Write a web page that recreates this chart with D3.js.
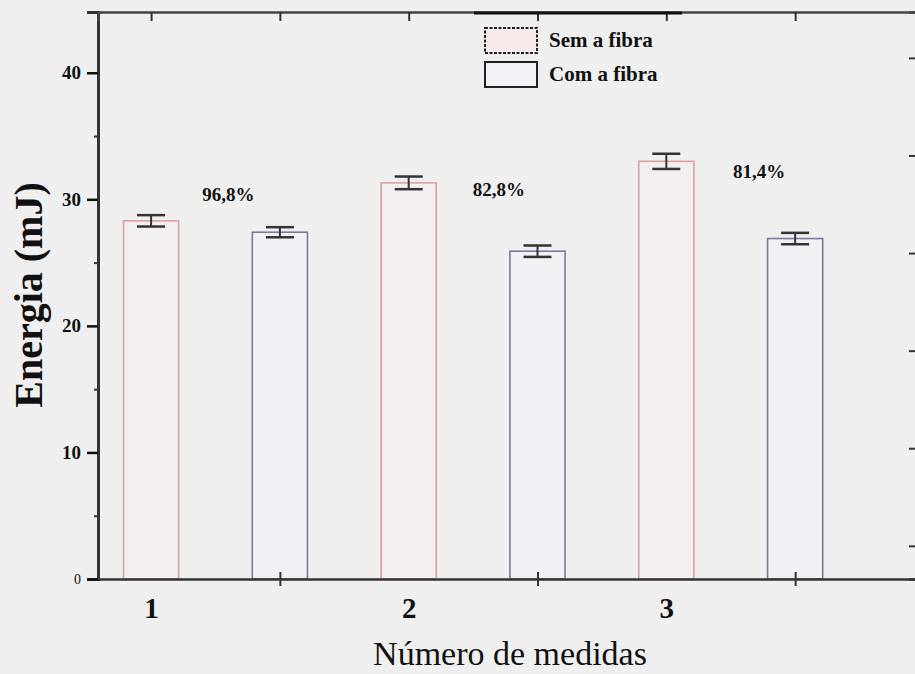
<!DOCTYPE html>
<html><head><meta charset="utf-8">
<script src="https://cdn.jsdelivr.net/npm/d3@7/dist/d3.min.js"></script>
<style>
html,body{margin:0;padding:0;background:#efefef;}
svg{display:block;}
</style></head>
<body>
<script>
// ---- data ----
const groups = [1, 2, 3];
const semFibra = [28.3, 31.3, 33.0];
const semFibraErr = [0.45, 0.5, 0.6];
const comFibra = [27.4, 25.9, 26.9];
const comFibraErr = [0.4, 0.45, 0.45];
const ratioLabels = ["96,8%", "82,8%", "81,4%"];
const yTicks = [0, 10, 20, 30, 40];
const yMinorTicks = [5, 15, 25, 35];
const seriesNames = ["Sem a fibra", "Com a fibra"];

const SERIF = "'Liberation Serif', 'Times New Roman', 'DejaVu Serif', serif";
const W = 915, H = 674;
const svg = d3.select("body").append("svg").attr("width", W).attr("height", H)
  .style("font-family", SERIF);
svg.append("rect").attr("width", W).attr("height", H).attr("fill", "#efefef");

const pLeft = 98, pRight = 917, pTop = 12, pBottom = 579;
const x = d3.scaleLinear().domain([0.794, 3.973]).range([pLeft, pRight]);
const y = d3.scaleLinear().domain([0, 44.8]).range([pBottom, pTop]);
const yR = d3.scaleLinear().domain([-0.34, 5.47]).range([pBottom, pTop]);
const barW = x(1.214) - x(1);

const semColor = "#d9a0a0", comColor = "#7a7aa0";

function txt(sel) { return sel.style("font-family", SERIF).attr("fill", "#111"); }

// bars
function drawBars(vals, errs, offset, color, fill) {
  const g = svg.append("g");
  g.selectAll("rect").data(vals).join("rect")
    .attr("x", (d, i) => x(groups[i] + offset) - barW / 2)
    .attr("y", d => y(d))
    .attr("width", barW)
    .attr("height", d => y(0) - y(d))
    .attr("fill", fill)
    .attr("stroke", color).attr("stroke-width", 1.6);
  const capW = 14;
  const eg = g.selectAll("g.err").data(vals).join("g").attr("class", "err");
  eg.append("line")
    .attr("x1", (d, i) => x(groups[i] + offset)).attr("x2", (d, i) => x(groups[i] + offset))
    .attr("y1", (d, i) => y(d + errs[i])).attr("y2", (d, i) => y(d - errs[i]))
    .attr("stroke", "#333").attr("stroke-width", 2);
  [1, -1].forEach(s => {
    eg.append("line")
      .attr("x1", (d, i) => x(groups[i] + offset) - capW).attr("x2", (d, i) => x(groups[i] + offset) + capW)
      .attr("y1", (d, i) => y(d + s * errs[i])).attr("y2", (d, i) => y(d + s * errs[i]))
      .attr("stroke", "#333").attr("stroke-width", 2.5);
  });
}
drawBars(semFibra, semFibraErr, 0, semColor, "#f3efef");
drawBars(comFibra, comFibraErr, 0.5, comColor, "#f1f1f5");

// axes
const axisColor = "#333";
// left axis
const yAxis = d3.axisLeft(y).tickValues(yTicks).tickSize(11).tickPadding(6).tickFormat(d3.format("d"));
const gy = svg.append("g").attr("transform", `translate(${pLeft},0)`).call(yAxis);
gy.select(".domain").attr("stroke", axisColor).attr("stroke-width", 3);
gy.selectAll(".tick line").attr("stroke", "#111").attr("stroke-width", 2.5);
txt(gy.selectAll(".tick text")).attr("font-size", 19).attr("font-weight", "bold");
gy.selectAll(".tick").filter(d => d === 0).select("text").attr("font-size", 14).attr("font-weight", "normal");
const gym = svg.append("g").attr("transform", `translate(${pLeft},0)`)
  .call(d3.axisLeft(y).tickValues(yMinorTicks).tickSize(4).tickFormat(""));
gym.select(".domain").remove();
gym.selectAll(".tick line").attr("stroke", axisColor).attr("stroke-width", 2);

// right axis (inward ticks)
const gr = svg.append("g").attr("transform", `translate(${pRight},0)`)
  .call(d3.axisLeft(yR).tickValues([0, 1, 2, 3, 4, 5]).tickSize(8).tickFormat(""));
gr.select(".domain").attr("stroke", axisColor).attr("stroke-width", 2.5);
gr.selectAll(".tick line").attr("stroke", axisColor).attr("stroke-width", 2);

// top axis (inward ticks)
const gt = svg.append("g").attr("transform", `translate(0,${pTop})`)
  .call(d3.axisBottom(x).tickValues([1, 1.5, 2, 2.5, 3, 3.5]).tickSize(9).tickFormat(""));
gt.select(".domain").attr("stroke", "#444").attr("stroke-width", 2.5);
gt.selectAll(".tick line").attr("stroke", "#333").attr("stroke-width", 2);

// bottom axis: cross ticks at half positions, labels at groups
const gb = svg.append("g").attr("transform", `translate(0,${pBottom})`)
  .call(d3.axisBottom(x).tickValues([1.5, 2.5, 3.5]).tickSizeInner(7).tickSizeOuter(0).tickFormat(""));
gb.select(".domain").attr("stroke", axisColor).attr("stroke-width", 2.5);
gb.selectAll(".tick line").attr("y1", -7).attr("stroke", "#333").attr("stroke-width", 2);
const gbl = svg.append("g").attr("transform", `translate(0,${pBottom})`)
  .call(d3.axisBottom(x).tickValues(groups).tickSize(0).tickPadding(18).tickFormat(d3.format("d")));
gbl.select(".domain").remove();
txt(gbl.selectAll(".tick text")).attr("font-size", 29).attr("font-weight", "bold");

// ratio labels
txt(svg.append("g").selectAll("text").data(ratioLabels).join("text"))
  .attr("x", (d, i) => x(groups[i] + [0.3, 0.35, 0.36][i]))
  .attr("y", (d, i) => y([29.9, 30.3, 31.7][i]))
  .attr("text-anchor", "middle")
  .attr("font-size", 19).attr("font-weight", "bold")
  .text(d => d);

// legend
const lg = svg.append("g");
lg.append("line").attr("x1", 474).attr("x2", 682).attr("y1", pTop + 1).attr("y2", pTop + 1)
  .attr("stroke", "#111").attr("stroke-width", 3);
const legendFills = ["#f6eaea", "#f2f2f6"];
seriesNames.forEach((name, i) => {
  const yy = 28 + i * 34;
  lg.append("rect").attr("x", 485).attr("y", yy).attr("width", 52).attr("height", 25)
    .attr("fill", legendFills[i]).attr("stroke", "#222").attr("stroke-width", 2)
    .attr("stroke-dasharray", i === 0 ? "3,1.5" : null);
  txt(lg.append("text")).attr("x", 549).attr("y", yy + 19)
    .attr("font-size", 21).attr("font-weight", "bold").text(name);
});

// axis titles
txt(svg.append("text")).attr("x", 510).attr("y", 665).attr("text-anchor", "middle")
  .attr("font-size", 34).text("Número de medidas");
txt(svg.append("text")).attr("transform", "translate(42,295) rotate(-90)")
  .attr("text-anchor", "middle").attr("font-size", 40).attr("font-weight", "bold")
  .text("Energia (mJ)");
</script>
</body></html>
